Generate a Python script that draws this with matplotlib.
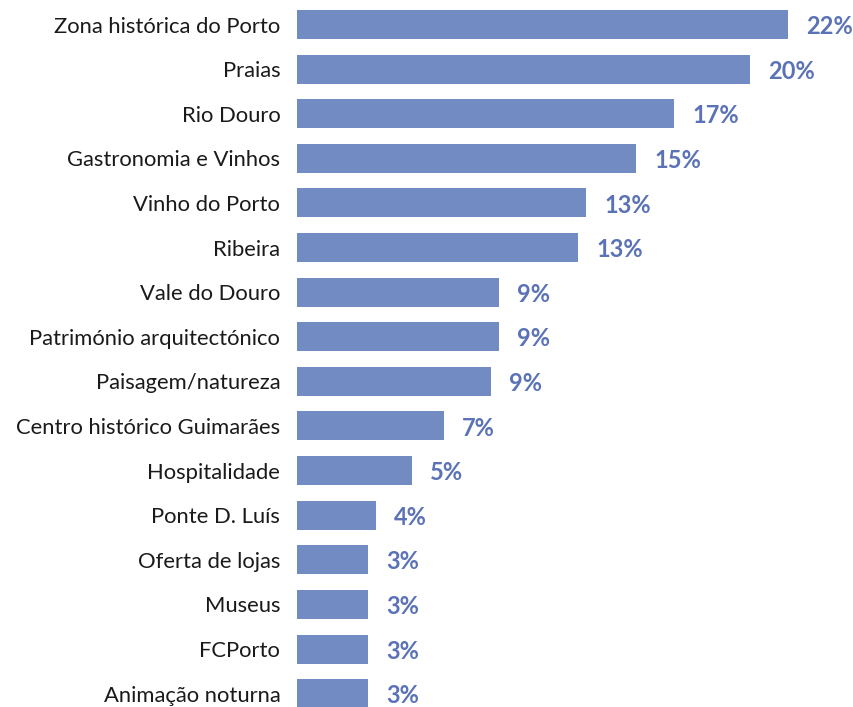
import matplotlib
matplotlib.use('Agg')
import matplotlib.pyplot as plt

# dados
categorias = ['Zona histórica do Porto', 'Praias', 'Rio Douro', 'Gastronomia e Vinhos',
              'Vinho do Porto', 'Ribeira', 'Vale do Douro', 'Património arquitectónico',
              'Paisagem/natureza', 'Centro histórico Guimarães', 'Hospitalidade',
              'Ponte D. Luís', 'Oferta de lojas', 'Museus', 'FCPorto', 'Animação noturna']
valores = [22.0, 20.3, 16.9, 15.2, 12.95, 12.6, 9.05, 9.05, 8.7, 6.6, 5.15, 3.55,
           3.2, 3.2, 3.2, 3.2]
rotulos = ['22%', '20%', '17%', '15%', '13%', '13%', '9%', '9%', '9%', '7%', '5%', '4%',
           '3%', '3%', '3%', '3%']

COR_BARRA = '#728BC3'
COR_TEXTO = '#5B73B6'

plt.rcParams['font.family'] = ['Lato', 'DejaVu Sans']

fig = plt.figure(figsize=(8.54, 7.07), dpi=100)
ax = fig.add_axes([297 / 854, 0.0, 1 - 297 / 854, 1.0])

pos = list(range(len(categorias)))
ax.barh(pos, valores, height=0.65, color=COR_BARRA)

for y, v, r in zip(pos, valores, rotulos):
    ax.annotate(r, xy=(v, y), xytext=(13, -1.5), textcoords='offset points',
                ha='left', va='center', fontsize=17, fontweight='bold', color=COR_TEXTO)

ax.set_yticks(pos)
ax.set_yticklabels(categorias, fontsize=15.8, color='#1a1a1a')
ax.tick_params(axis='y', length=0, pad=12)
ax.set_xticks([])
ax.set_xlim(0, 557 / 22.32)
ax.set_ylim(15.30, -0.55)
for s in ax.spines.values():
    s.set_visible(False)

fig.savefig('out.png', dpi=100)
